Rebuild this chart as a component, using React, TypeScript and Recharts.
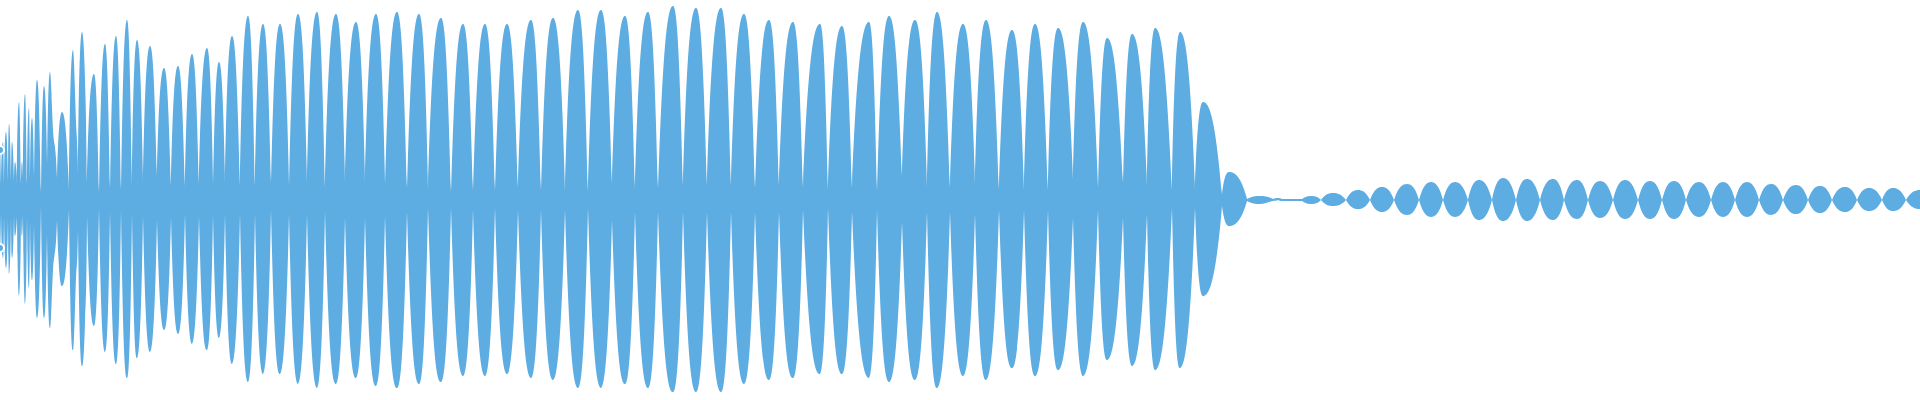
import React from "react";
import { AreaChart, Area, XAxis, YAxis } from "recharts";

// envelope of the clip: frame index of every peak and of the dip between peaks
const frame = [
  0, 1, 3, 4, 6, 8, 9, 11, 12, 14,
  15, 17, 19, 21, 22, 23, 25, 27, 29, 30,
  32, 34, 37, 41, 44, 47, 50, 53, 57, 62,
  69, 73, 76, 78, 82, 85, 87, 94, 99,
  105, 110, 116, 121, 127, 132, 137, 143, 150, 157,
  164, 171, 178, 185, 192, 199, 207, 213, 219, 225,
  232, 240, 248, 255, 263, 271, 280, 289, 298, 307,
  317, 325, 336, 345, 356, 365, 376, 385, 397, 407,
  419, 428, 441, 451, 463, 473, 485, 495, 507, 518,
  531, 541, 553, 565, 578, 588, 601, 612, 625, 635,
  648, 658, 673, 683, 696, 707, 721, 731, 744, 755,
  769, 779, 793, 803, 820, 828, 842, 852, 869, 877,
  889, 902, 915, 927, 937, 950, 963, 975, 986, 999,
  1012, 1024, 1035, 1048, 1058, 1073, 1083, 1098, 1107, 1123,
  1132, 1147, 1155, 1172, 1180, 1195, 1203, 1222, 1229, 1247,
  1260, 1273, 1278, 1282, 1302, 1312, 1321, 1333, 1346, 1358,
  1370, 1382, 1394, 1407, 1419, 1431, 1443, 1455, 1468, 1479,
  1492, 1503, 1516, 1527, 1540, 1553, 1564, 1577, 1588, 1600,
  1613, 1625, 1638, 1650, 1662, 1674, 1686, 1699, 1711, 1723,
  1735, 1747, 1759, 1771, 1783, 1796, 1808, 1820, 1832, 1845,
  1857, 1869, 1882, 1893, 1906, 1920,
];

// positive excursion (normalised -1..1)
const upper = [
  0.25, 0.08, 0.29, 0.08, 0.34, 0.09, 0.38, 0.09, 0.29, 0.09,
  0.19, 0.08, 0.49, 0.08, 0.19, 0.07, 0.53, 0.08, 0.46, 0.1,
  0.41, 0.12, 0.6, 0.04, 0.57, 0.18, 0.64, 0.35, 0.11, 0.44,
  0.05, 0.75, 0.39, 0.12, 0.84, 0.6, 0.09, 0.63, 0.04,
  0.78, 0.06, 0.82, 0.05, 0.9, 0.07, 0.8, 0.07, 0.77, 0.12,
  0.66, 0.07, 0.67, 0.07, 0.73, 0.08, 0.76, 0.08, 0.69, 0.08,
  0.82, 0.07, 0.92, 0.07, 0.88, 0.09, 0.88, 0.07, 0.93, 0.08,
  0.94, 0.06, 0.93, 0.09, 0.89, 0.09, 0.93, 0.08, 0.94, 0.06,
  0.93, 0.05, 0.91, 0.04, 0.88, 0.05, 0.88, 0.05, 0.88, 0.06,
  0.9, 0.05, 0.91, 0.04, 0.95, 0.04, 0.95, 0.08, 0.92, 0.06,
  0.94, 0.06, 0.97, 0.07, 0.96, 0.07, 0.96, 0.07, 0.93, 0.06,
  0.9, 0.07, 0.89, 0.06, 0.88, 0.05, 0.87, 0.06, 0.89, 0.05,
  0.92, 0.12, 0.9, 0.06, 0.94, 0.06, 0.88, 0.08, 0.9, 0.05,
  0.85, 0.05, 0.88, 0.05, 0.86, 0.1, 0.89, 0.06, 0.81, 0.09,
  0.83, 0.07, 0.86, 0.05, 0.84, 0.05, 0.49, 0.03, 0.14, 0.005,
  0.02, 0.005, 0.01, 0.005, 0.005, 0.02, 0, 0.035, 0, 0.05,
  0, 0.065, 0, 0.08, 0, 0.09, 0, 0.09, 0, 0.1,
  0, 0.11, 0, 0.105, 0, 0.105, 0, 0.1, 0, 0.095,
  0, 0.1, 0, 0.095, 0, 0.095, 0, 0.09, 0, 0.09,
  0, 0.09, 0, 0.08, 0, 0.075, 0, 0.07, 0, 0.065,
  0, 0.06, 0, 0.06, 0, 0.05,
];

// negative excursion
const lower = [
  -0.24, -0.07, -0.29, -0.08, -0.34, -0.09, -0.37, -0.09, -0.29, -0.08,
  -0.18, -0.08, -0.48, -0.08, -0.18, -0.07, -0.52, -0.08, -0.44, -0.1,
  -0.4, -0.12, -0.59, -0.03, -0.59, -0.17, -0.64, -0.35, -0.1, -0.43,
  -0.05, -0.75, -0.39, -0.15, -0.83, -0.61, -0.08, -0.63, -0.04,
  -0.76, -0.06, -0.82, -0.05, -0.89, -0.07, -0.79, -0.08, -0.76, -0.1,
  -0.65, -0.09, -0.67, -0.07, -0.72, -0.08, -0.75, -0.08, -0.69, -0.07,
  -0.82, -0.07, -0.91, -0.07, -0.87, -0.05, -0.87, -0.07, -0.92, -0.07,
  -0.94, -0.06, -0.92, -0.09, -0.89, -0.09, -0.93, -0.08, -0.94, -0.06,
  -0.92, -0.04, -0.91, -0.04, -0.88, -0.05, -0.88, -0.04, -0.87, -0.05,
  -0.89, -0.05, -0.9, -0.05, -0.94, -0.04, -0.94, -0.1, -0.92, -0.06,
  -0.94, -0.06, -0.96, -0.06, -0.96, -0.06, -0.96, -0.06, -0.92, -0.06,
  -0.9, -0.06, -0.89, -0.05, -0.87, -0.04, -0.87, -0.06, -0.89, -0.05,
  -0.91, -0.11, -0.9, -0.06, -0.94, -0.06, -0.88, -0.07, -0.9, -0.05,
  -0.84, -0.05, -0.88, -0.05, -0.85, -0.09, -0.88, -0.05, -0.8, -0.09,
  -0.83, -0.07, -0.85, -0.04, -0.84, -0.04, -0.48, -0.03, -0.13, -0.005,
  -0.02, -0.005, 0, -0.005, -0.005, -0.02, 0, -0.03, 0, -0.045,
  0, -0.06, 0, -0.075, 0, -0.085, 0, -0.085, 0, -0.1,
  0, -0.105, 0, -0.105, 0, -0.1, 0, -0.095, 0, -0.09,
  0, -0.095, 0, -0.095, 0, -0.095, 0, -0.085, 0, -0.085,
  0, -0.085, 0, -0.075, 0, -0.07, 0, -0.065, 0, -0.06,
  0, -0.055, 0, -0.055, 0, -0.045,
];

const waveform = frame.map((f, i) => ({ frame: f, range: [lower[i], upper[i]] }));

type Pt = [number, number];
// how steeply a lobe leaves a dip, relative to the straight line to its peak
const DIP_STEEPNESS = 2.5;

// draws one edge of the envelope: flat tangent at peaks, steep cusp at the dips
function drawLobes(ctx: any, pts: Pt[], out: number, first: boolean) {
  const n = pts.length;
  if (!n) return;
  if (first) ctx.moveTo(pts[0][0], pts[0][1]);
  else ctx.lineTo(pts[0][0], pts[0][1]);

  const reach = (p: Pt) => p[1] * out;
  const kind = pts.map((p, i) => {
    const r = reach(p);
    const nb = [pts[i - 1], pts[i + 1]].filter(Boolean).map(reach);
    if (!nb.length) return "mid";
    if (nb.every((v) => r >= v) && nb.some((v) => r > v)) return "peak";
    if (nb.every((v) => r <= v) && nb.some((v) => r < v)) return "dip";
    return "mid";
  });
  const slope = (i: number, j: number) =>
    (pts[j][1] - pts[i][1]) / (pts[j][0] - pts[i][0] || 1);
  const tangent = (i: number, j: number) => {
    if (kind[i] === "peak") return 0;
    const s = slope(i, j);
    if (kind[i] === "dip") return DIP_STEEPNESS * s;
    const k = 2 * i - j;
    if (k < 0 || k >= n) return s;
    const s2 = slope(k, i);
    return s * s2 > 0 ? (s + s2) / 2 : 0;
  };

  for (let i = 0; i < n - 1; i++) {
    const [xa, ya] = pts[i];
    const [xb, yb] = pts[i + 1];
    const dx = xb - xa;
    const m0 = tangent(i, i + 1);
    const m1 = tangent(i + 1, i);
    ctx.bezierCurveTo(xa + dx / 3, ya + (m0 * dx) / 3, xb - dx / 3, yb - (m1 * dx) / 3, xb, yb);
  }
}

const lobeCurve = (ctx: any) => {
  let lines: Pt[][] = [];
  let pts: Pt[] = [];
  let inArea = false;
  return {
    areaStart() {
      inArea = true;
      lines = [];
    },
    areaEnd() {
      inArea = false;
      if (lines.length === 2) {
        const mean = (l: Pt[]) => l.reduce((s, p) => s + p[1], 0) / (l.length || 1);
        const out = mean(lines[0]) <= mean(lines[1]) ? -1 : 1;
        drawLobes(ctx, lines[0], out, true);
        drawLobes(ctx, lines[1], -out, false);
        ctx.closePath();
      }
    },
    lineStart() {
      pts = [];
    },
    lineEnd() {
      if (inArea) lines.push(pts);
      else drawLobes(ctx, pts, -1, true);
    },
    point(x: number, y: number) {
      pts.push([+x, +y]);
    },
  };
};

const App = () => {
  return (
    <div style={{ position: "absolute", left: 0, top: 0 }}>
      <AreaChart
        width={1920}
        height={400}
        data={waveform}
        margin={{ top: 0, right: 0, bottom: 0, left: 0 }}
      >
        <XAxis type="number" dataKey="frame" domain={[0, 1920]} hide />
        <YAxis type="number" domain={[-1, 1]} hide />
        <Area
          type={lobeCurve as any}
          dataKey="range"
          stroke="none"
          fill="#5DADE2"
          fillOpacity={1}
          isAnimationActive={false}
        />
      </AreaChart>
    </div>
  );
};

export default App;
